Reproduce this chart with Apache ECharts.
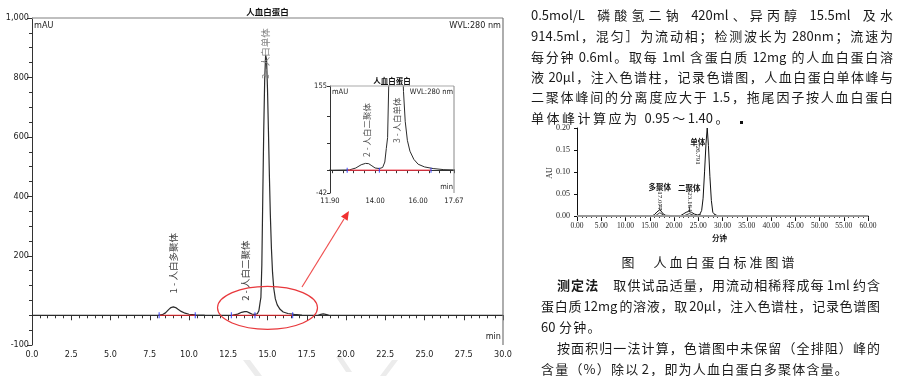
<!DOCTYPE html>
<html><head><meta charset="utf-8">
<script src="https://cdn.jsdelivr.net/npm/echarts@6/dist/echarts.min.js"></script>
<style>html,body{margin:0;padding:0;background:#fff}#c{width:903px;height:376px}</style>
</head><body><div id="c"></div>
<script>
// ---------------- DATA ----------------
// Main chromatogram (time in min, signal in mAU)
const mainTime = [0, 4, 8.0, 8.3, 8.5, 8.7, 8.85, 9.0, 9.15, 9.3, 9.5, 9.75, 10.0, 10.4, 11.0, 12.0, 12.8, 13.1, 13.35, 13.55,
  13.7, 13.85, 14.0, 14.2, 14.35, 14.45, 14.52, 14.58, 14.64, 14.7, 14.76, 14.82, 14.88, 14.94, 15.0, 15.06, 15.12, 15.18, 15.25, 15.32,
  15.4, 15.5, 15.62, 15.8, 16.0, 16.3, 16.7, 17.2, 18.2, 18.4, 18.55, 18.7, 18.9, 19.3, 25, 30];
const mainSignal = [0, 0, 0, 2, 8, 19, 26, 28, 26, 20, 13, 7, 3.5, 1.5, 0.5, 0, 0.5, 4, 10, 12.5,
  12, 8, 4, 3, 5, 15, 40, 60, 170, 400, 620, 790, 875, 860, 760, 620, 470, 340, 225, 145,
  90, 55, 35, 20, 11, 6, 3, 1, 0, 3, 4.5, 3, 1, 0, 0, 0];
// integration baselines (start / end times) and peak-delimiter marks
const baseStart = [8.1, 12.7, 14.2];
const baseEnd = [10.4, 14.2, 16.6];
const delimTimes = [8.1, 10.4, 12.7, 14.2, 16.6];
const mainPeakNames = ['1 - 人白多聚体', '2 - 人白二聚体', '3 - 人白单体'];
const insetPeakNames = ['2 - 人白二聚体', '3 - 人白单体'];
// axis tick labels
const mainYLabels = [-100, 200, 400, 600, 800, 1000];
const insetXLabels = [11.90, 14.00, 16.00, 17.67];
const insetYLabels = [-42, 155];
const insetXTicks = [11.9, 12, 12.5, 13, 13.5, 14, 14.5, 15, 15.5, 16, 16.5, 17, 17.5, 17.67];
const insetYTicks = [-42, 0, 50, 100, 155];

// Small reference chromatogram (min, AU)
const smallTime = [0, 15.5, 16.0, 16.5, 16.9, 17.1, 17.4, 17.8, 18.3, 21.3, 21.9, 22.5, 23.0, 23.2, 23.6, 24.2, 24.8, 25.3, 25.7, 26.0,
  26.3, 26.6, 26.85, 27.1, 27.4, 27.7, 28.0, 28.4, 29.0, 60];
const smallSignal = [0, 0, 0.003, 0.009, 0.013, 0.014, 0.010, 0.004, 0.001, 0, 0.004, 0.008, 0.010, 0.010, 0.008, 0.004, 0.002, 0.003, 0.012, 0.04,
  0.10, 0.165, 0.20, 0.16, 0.09, 0.035, 0.008, 0.003, 0, 0];
const smallMarkTime = [15.9, 17.08, 18.3, null, 21.6, 23.16, 24.8, null, 24.9, 25.4, 25.9, null, 27.9, 28.4, 28.9];
const smallMarkValue = [-0.002, 0.007, -0.002, null, -0.002, 0.005, -0.002, null, -0.002, 0.003, -0.002, null, -0.002, 0.003, -0.002];
const smallPeakTimes = [17.077, 23.164, 26.791];
const smallPeakTops = [0.014, 0.010, 0.20];
const smallPeakNames = ['多聚体', '二聚体', '单体'];
const smallYLabels = [0, 0.05, 0.10, 0.15, 0.20];

// Text on the page
const paragraphTop = [
  '0.5mol/L 磷酸氢二钠 420ml、异丙醇 15.5ml 及水',
  '914.5ml，混匀］为流动相；检测波长为 280nm；流速为',
  '每分钟 0.6ml。取每 1ml 含蛋白质 12mg 的人血白蛋白溶',
  '液 20μl，注入色谱柱，记录色谱图，人血白蛋白单体峰与',
  '二聚体峰间的分离度应大于 1.5，拖尾因子按人血白蛋白',
  '单体峰计算应为 0.95～1.40。'
];
const captionText = '图　人血白蛋白标准图谱';
const paragraphBottom = [
  '测定法　取供试品适量，用流动相稀释成每 1ml 约含',
  '蛋白质 12mg 的溶液，取 20μl，注入色谱柱，记录色谱图',
  '60 分钟。',
  '按面积归一法计算，色谱图中未保留（全排阻）峰的',
  '含量（%）除以 2，即为人血白蛋白多聚体含量。'
];

// ---------------- CHART ----------------
const AX_FONT = '"Liberation Sans Narrow", "DejaVu Sans Condensed", "Arial Narrow", sans-serif';
const SERIF = '"Liberation Serif", "DejaVu Serif", serif';
const CJK = 'Noto Sans CJK SC';
const zip = (a, b) => a.map((v, i) => [v, b[i]]);
const zipNull = (a, b) => a.map((v, i) => v === null ? [null, '-'] : [v, b[i]]);
const baseData = [];
baseStart.forEach((s, i) => { baseData.push([s, 0], [baseEnd[i], 0], [baseEnd[i], '-']); });
const delimData = delimTimes.map(t => [t, 0]);
const leaderData = [];
smallPeakTimes.forEach((t, i) => { if (i < 2) leaderData.push([t, smallPeakTops[i]], [t, smallPeakTops[i] + 0.012], [t, '-']); });

const axLine = c => ({show: true, lineStyle: {color: c, width: 1}});
const chart = echarts.init(document.getElementById('c'));
const option = {
  animation: false,
  backgroundColor: '#fff',
  grid: [
    {left: 32, top: 18, width: 471, height: 327},
    {left: 330, top: 86, width: 124, height: 107},
    {left: 577, top: 128, width: 291, height: 90}
  ],
  xAxis: [
    {gridIndex: 0, type: 'value', position: 'bottom', min: 0, max: 30, interval: 0.5, axisLine: axLine('#333'),
      axisTick: {length: 3, lineStyle: {color: '#333'}}, axisLabel: {show: false}, splitLine: {show: false}},
    {gridIndex: 0, type: 'value', position: 'bottom', min: 0, max: 30, interval: 2.5, axisLine: {show: false},
      axisTick: {length: 5, lineStyle: {color: '#333'}},
      axisLabel: {formatter: v => v.toFixed(1), fontSize: 9, color: '#222', fontFamily: AX_FONT, margin: 5, hideOverlap: false},
      splitLine: {show: false}},
    {gridIndex: 1, type: 'value', position: 'bottom', min: 11.9, max: 17.67, axisLine: axLine('#333'),
      axisTick: {customValues: insetXTicks, length: 3, lineStyle: {color: '#333'}},
      axisLabel: {customValues: insetXLabels, formatter: v => v.toFixed(2), fontSize: 7.5, color: '#222', fontFamily: AX_FONT, margin: 4},
      splitLine: {show: false}},
    {gridIndex: 2, type: 'value', position: 'bottom', min: 0, max: 60, interval: 1, axisLine: axLine('#111'),
      axisTick: {length: 2, lineStyle: {color: '#111'}}, axisLabel: {show: false}, splitLine: {show: false}},
    {gridIndex: 2, type: 'value', position: 'bottom', min: 0, max: 60, interval: 5, axisLine: {show: false},
      axisTick: {length: 3, lineStyle: {color: '#111'}},
      axisLabel: {formatter: v => v.toFixed(2), fontSize: 7.5, color: '#222', fontFamily: SERIF, margin: 4, hideOverlap: false},
      splitLine: {show: false}}
  ],
  yAxis: [
    {gridIndex: 0, type: 'value', position: 'left', min: -100, max: 1000, interval: 50, axisLine: axLine('#333'),
      axisTick: {length: 3, lineStyle: {color: '#333'}}, axisLabel: {show: false}, splitLine: {show: false}},
    {gridIndex: 0, type: 'value', position: 'left', min: -100, max: 1000, axisLine: {show: false},
      axisTick: {customValues: mainYLabels, length: 5, lineStyle: {color: '#333'}},
      axisLabel: {customValues: mainYLabels, formatter: v => v === 1000 ? '1,000' : String(v), fontSize: 9, color: '#222', fontFamily: AX_FONT, margin: 3},
      splitLine: {show: false}},
    {gridIndex: 1, type: 'value', position: 'left', min: -42, max: 155, axisLine: axLine('#333'),
      axisTick: {customValues: insetYTicks, length: 3, lineStyle: {color: '#333'}},
      axisLabel: {customValues: insetYLabels, fontSize: 7.5, color: '#222', fontFamily: AX_FONT, margin: 3},
      splitLine: {show: false}},
    {gridIndex: 2, type: 'value', position: 'left', min: -0.005, max: 0.2, axisLine: axLine('#111'),
      axisTick: {customValues: smallYLabels, length: 3, lineStyle: {color: '#111'}},
      axisLabel: {customValues: smallYLabels, formatter: v => v.toFixed(2), fontSize: 8, color: '#222', fontFamily: SERIF, margin: 7},
      splitLine: {show: false}}
  ],
  series: [
    {type: 'line', xAxisIndex: 0, yAxisIndex: 0, data: zip(mainTime, mainSignal), symbol: 'none', z: 3,
      lineStyle: {color: '#2b2b2b', width: 1.2}},
    {type: 'line', xAxisIndex: 0, yAxisIndex: 0, data: baseData, symbol: 'none', z: 4,
      lineStyle: {color: '#e8262a', width: 1.2}},
    {type: 'scatter', xAxisIndex: 0, yAxisIndex: 0, data: delimData, symbol: 'rect', symbolSize: [1.2, 6], z: 5,
      itemStyle: {color: '#3040ff'}},
    {type: 'line', xAxisIndex: 2, yAxisIndex: 2, data: zip(mainTime, mainSignal), symbol: 'none', z: 3, clip: true,
      lineStyle: {color: '#2b2b2b', width: 1}},
    {type: 'line', xAxisIndex: 2, yAxisIndex: 2, data: baseData, symbol: 'none', z: 4, clip: true,
      lineStyle: {color: '#f03040', width: 1.5, opacity: 0.8}},
    {type: 'scatter', xAxisIndex: 2, yAxisIndex: 2, data: delimData, symbol: 'rect', symbolSize: [1.2, 5], z: 5,
      itemStyle: {color: '#3040ff'}},
    {type: 'line', xAxisIndex: 3, yAxisIndex: 3, data: zip(smallTime, smallSignal), symbol: 'none', z: 3,
      lineStyle: {color: '#111', width: 1},
      markLine: {silent: true, symbol: 'none', label: {show: false}, lineStyle: {color: '#999', width: 2, type: 'solid'}, data: [{yAxis: 0}]}},
    {type: 'line', xAxisIndex: 3, yAxisIndex: 3, data: zipNull(smallMarkTime, smallMarkValue), symbol: 'none', z: 3,
      lineStyle: {color: '#111', width: 0.8}},
    {type: 'line', xAxisIndex: 3, yAxisIndex: 3, data: leaderData, symbol: 'none', z: 3, lineStyle: {color: '#111', width: 0.7}}
  ]
};
chart.setOption(option);

// ---------------- GRAPHIC (annotations & page text) ----------------
const P = (ax, ay, pt) => chart.convertToPixel({xAxisIndex: ax, yAxisIndex: ay}, pt);
const G = [];
function T(x, y, text, st, el) {
  G.push(Object.assign({type: 'text', x, y, silent: true, z: 10,
    style: Object.assign({text, fill: '#222', fontSize: 9, fontFamily: AX_FONT, align: 'left', verticalAlign: 'middle'}, st || {})}, el || {}));
}
function L(x1, y1, x2, y2, c, w) {
  G.push({type: 'line', silent: true, z: 9, shape: {x1, y1, x2, y2}, style: {stroke: c, lineWidth: w || 1}});
}
// main frame
const m0 = P(0, 0, [0, 1000]), m1 = P(0, 0, [30, -100]);
L(m0[0], m0[1], m1[0], m0[1], '#aaa', 1.5);
L(m1[0], m0[1], m1[0], m1[1], '#777', 1.2);
T((m0[0] + m1[0]) / 2, m0[1] - 6, '人血白蛋白', {fontFamily: CJK, fontSize: 8.5, align: 'center', fill: '#111', fontWeight: 'bold'});
T(m0[0] + 2, m0[1] + 8, 'mAU');
T(m1[0] - 2, m0[1] + 8, 'WVL:280 nm', {align: 'right'});
T(m1[0] - 2, m1[1] - 8, 'min', {align: 'right'});
// main peak labels (vertical)
const mainLabelAt = [[9.0, 175], [13.6, 150], [14.85, 880]];
mainPeakNames.forEach((n, i) => {
  const p = P(0, 0, mainLabelAt[i]);
  T(p[0], p[1], n, {fontFamily: CJK, fontSize: 9.5, align: 'center', fill: i === 2 ? '#888' : '#444'}, {rotation: Math.PI / 2});
});
// inset frame
const i0 = P(2, 2, [11.9, 155]), i1 = P(2, 2, [17.67, -42]);
L(i0[0], i0[1], i1[0], i0[1], '#aaa', 1.2);
L(i1[0], i0[1], i1[0], i1[1], '#888', 1);
T((i0[0] + i1[0]) / 2, i0[1] - 5, '人血白蛋白', {fontFamily: CJK, fontSize: 7.5, align: 'center', fill: '#111', fontWeight: 'bold'});
T(i0[0] + 2, i0[1] + 6, 'mAU', {fontSize: 7.5});
T(i1[0] - 1, i0[1] + 6, 'WVL:280 nm', {fontSize: 7.5, align: 'right'});
T(i1[0] - 1, i1[1] - 6, 'min', {fontSize: 7.5, align: 'right'});
const insetLabelAt = [[13.61, 74], [15.0, 92]];
insetPeakNames.forEach((n, i) => {
  const p = P(2, 2, insetLabelAt[i]);
  T(p[0], p[1], n, {fontFamily: CJK, fontSize: 8.5, align: 'center', fill: '#555'}, {rotation: Math.PI / 2});
});
// red ellipse + arrow
const ec = P(0, 0, [15.0, 25]);
G.push({type: 'ellipse', silent: true, z: 8, shape: {cx: ec[0], cy: ec[1], rx: 50, ry: 21.5}, style: {fill: 'none', stroke: '#e8383c', lineWidth: 1.2}});
L(302, 287, 344, 219, '#f05050', 1.2);
G.push({type: 'polygon', silent: true, z: 9, shape: {points: [[349, 211], [347.6, 220.8], [341.0, 216.6]]}, style: {fill: '#f03030'}});
// small chart labels
const smallLabelAt = [[17.077, 0.066, 0.034], [23.164, 0.064, 0.032], [24.9, 0.168, 0.138]];
smallPeakTimes.forEach((t, i) => {
  const a = P(3, 3, [smallLabelAt[i][0], smallLabelAt[i][1]]);
  const b = P(3, 3, [smallLabelAt[i][0], smallLabelAt[i][2]]);
  T(a[0], a[1], smallPeakNames[i], {fontFamily: CJK, fontSize: 7.5, align: 'center', fill: '#111', fontWeight: 'bold'});
  T(b[0], b[1], t.toFixed(3), {fontFamily: SERIF, fontSize: 7, align: 'center', fill: '#111'}, {rotation: -Math.PI / 2});
});
const s0 = P(3, 3, [0, 0.2]), s1 = P(3, 3, [60, -0.005]);
T(s0[0] - 27, (s0[1] + s1[1]) / 2, 'AU', {fontFamily: SERIF, fontSize: 8, align: 'center'}, {rotation: Math.PI / 2});
T((s0[0] + s1[0]) / 2 - 3, s1[1] + 20, '分钟', {fontFamily: CJK, fontSize: 7.5, align: 'center', fontWeight: 'bold'});
G.push({type: 'rect', silent: true, z: 9, shape: {x: 740, y: 121, width: 3, height: 3}, style: {fill: '#111'}});
// watermark strokes
[[[243, 360], [250, 360], [262, 376], [255, 376]], [[336, 357], [342, 357], [352, 372], [346, 372]], [[392, 360], [398, 360], [386, 376], [380, 376]]]
  .forEach(pts => G.push({type: 'polygon', silent: true, z: 1, shape: {points: pts}, style: {fill: '#ececec'}}));

// paragraph text with justification
const PFS = 13;
const mctx = document.createElement('canvas').getContext('2d');
function tokenize(s) {
  const toks = []; let run = '', sp = false, runSp = false;
  for (const ch of s) {
    if (ch === ' ') { if (run) { toks.push({t: run, sp: runSp}); run = ''; } sp = true; continue; }
    if (/[\x21-\x7e\u00b5\u03bc]/.test(ch)) { if (!run) { runSp = sp; sp = false; } run += ch; }
    else { if (run) { toks.push({t: run, sp: runSp}); run = ''; } toks.push({t: ch, sp: sp}); sp = false; }
  }
  if (run) toks.push({t: run, sp: runSp});
  return toks;
}
function line(text, y, o) {
  const toks = tokenize(text);
  toks.forEach((t, i) => { t.wt = (o.bold && i < o.bold) ? 'bold' : 'normal';
    mctx.font = t.wt + ' ' + PFS + 'px "' + CJK + '"'; t.w = mctx.measureText(t.t).width; });
  const sumW = toks.reduce((a, t) => a + t.w, 0);
  const wts = toks.map((t, i) => i === 0 ? 0 : (t.sp ? 3 : 1));
  const sumWt = wts.reduce((a, b) => a + b, 0);
  const unit = o.right ? (o.right - o.left - sumW) / sumWt : (o.gap || 1.5);
  let x = o.left;
  if (o.center) x = o.center - (sumW + unit * sumWt) / 2;
  toks.forEach((t, i) => { x += wts[i] * unit;
    T(x, y, t.t, {fontFamily: CJK, fontSize: PFS, fontWeight: t.wt, fill: '#1a1a1a'}); x += t.w; });
}
const topY = [15, 36, 57, 77, 97, 118];
paragraphTop.forEach((s, i) => line(s, topY[i], {left: 531, right: i < 5 ? 893 : null, gap: 2.5}));
line(captionText, 262, {center: 708, gap: 3});
const botY = [285, 306, 327, 348, 369];
const botIndent = [557, 541, 541, 557, 541];
const botJust = [true, true, false, true, false];
paragraphBottom.forEach((s, i) => line(s, botY[i], {left: botIndent[i], right: botJust[i] ? 880 : null, bold: i === 0 ? 3 : 0, gap: 1.2}));

chart.setOption({graphic: {elements: G}});
</script>
</body></html>
